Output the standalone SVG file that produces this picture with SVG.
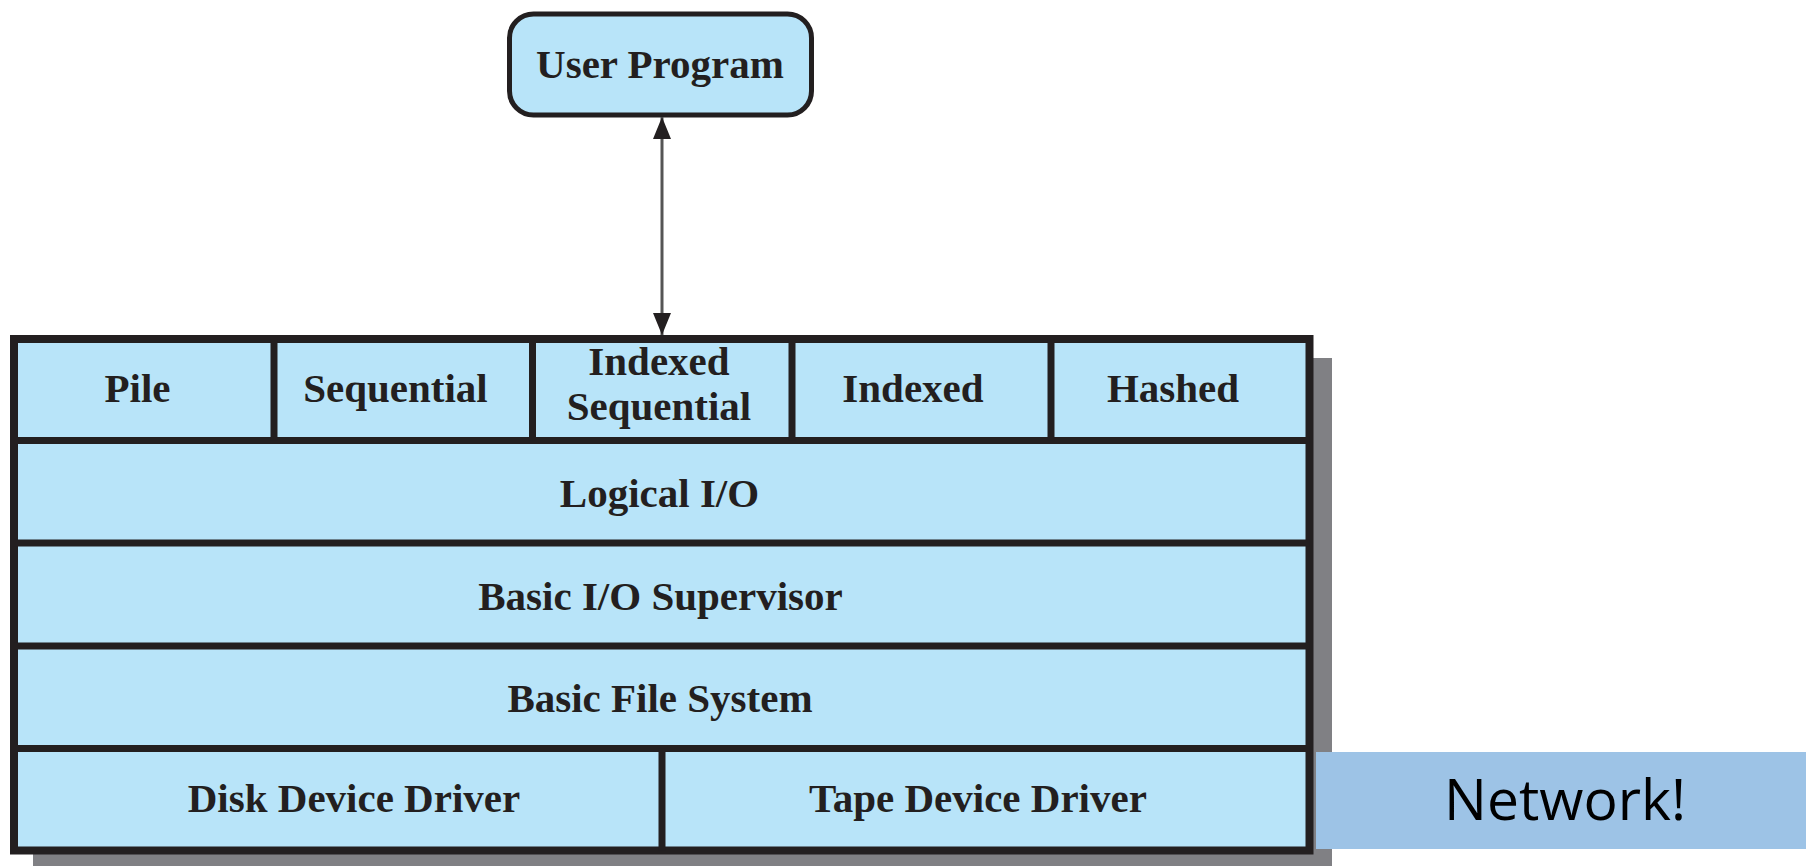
<svg xmlns="http://www.w3.org/2000/svg" width="1806" height="866" viewBox="0 0 1806 866">
<style>
.cell{fill:#b8e4f9;stroke:#231f20;stroke-width:7}
.t{font-family:"Liberation Serif","Times New Roman",serif;font-weight:bold;font-size:41px;fill:#231f20;text-anchor:middle}
.div{stroke:#231f20;stroke-width:7;fill:none}
</style>
<defs>
<marker id="ah" viewBox="0 0 22 18" refX="22" refY="9" markerWidth="22" markerHeight="18" markerUnits="userSpaceOnUse" orient="auto-start-reverse">
<path d="M0,0 L22,9 L0,18 Z" fill="#231f20"/>
</marker>
</defs>
<rect width="1806" height="866" fill="#ffffff"/>
<!-- shadow -->
<rect x="33" y="358" width="1299" height="520" fill="#808084"/>
<g id="frame">
<rect x="14" y="339" width="1295.5" height="511.5" fill="#b8e4f9" stroke="#231f20" stroke-width="8"/>
</g>
<g id="dividers">
<line class="div" x1="14" y1="440.5" x2="1309.5" y2="440.5"/>
<line class="div" x1="14" y1="543" x2="1309.5" y2="543"/>
<line class="div" x1="14" y1="646" x2="1309.5" y2="646"/>
<line class="div" x1="14" y1="748.5" x2="1309.5" y2="748.5"/>
<line class="div" x1="274" y1="339" x2="274" y2="440.5"/>
<line class="div" x1="532.5" y1="339" x2="532.5" y2="440.5"/>
<line class="div" x1="792" y1="339" x2="792" y2="440.5"/>
<line class="div" x1="1051" y1="339" x2="1051" y2="440.5"/>
<line class="div" x1="662" y1="748.5" x2="662" y2="850.5"/>
</g>
<g id="user-program">
<rect x="509.5" y="14" width="302" height="101" rx="24" ry="24" fill="#b8e4f9" stroke="#231f20" stroke-width="5"/>
<text class="t" x="660" y="78">User Program</text>
</g>
<g id="pile"><text class="t" x="137.5" y="402">Pile</text></g>
<g id="sequential"><text class="t" x="395.5" y="402">Sequential</text></g>
<g id="indexed-sequential"><text class="t" x="659" y="375">Indexed</text><text class="t" x="659" y="420">Sequential</text></g>
<g id="indexed"><text class="t" x="913" y="402">Indexed</text></g>
<g id="hashed"><text class="t" x="1173" y="402">Hashed</text></g>
<g id="logical-io"><text class="t" x="659.5" y="507">Logical I/O</text></g>
<g id="basic-io-supervisor"><text class="t" x="660.5" y="610">Basic I/O Supervisor</text></g>
<g id="basic-file-system"><text class="t" x="660" y="712">Basic File System</text></g>
<g id="disk-device-driver"><text class="t" x="354" y="812">Disk Device Driver</text></g>
<g id="tape-device-driver"><text class="t" x="978" y="812">Tape Device Driver</text></g>
<g id="network">
<rect x="1316" y="752" width="490" height="97" fill="#9dc3e6"/>
<text x="1565" y="820" font-family="'Open Sans','Liberation Sans',sans-serif" font-size="57" fill="#000000" text-anchor="middle">Network!</text>
</g>
<g id="connectors">
<line x1="662" y1="117" x2="662" y2="335" stroke="#555555" stroke-width="3" marker-start="url(#ah)" marker-end="url(#ah)"/>
</g>
</svg>
